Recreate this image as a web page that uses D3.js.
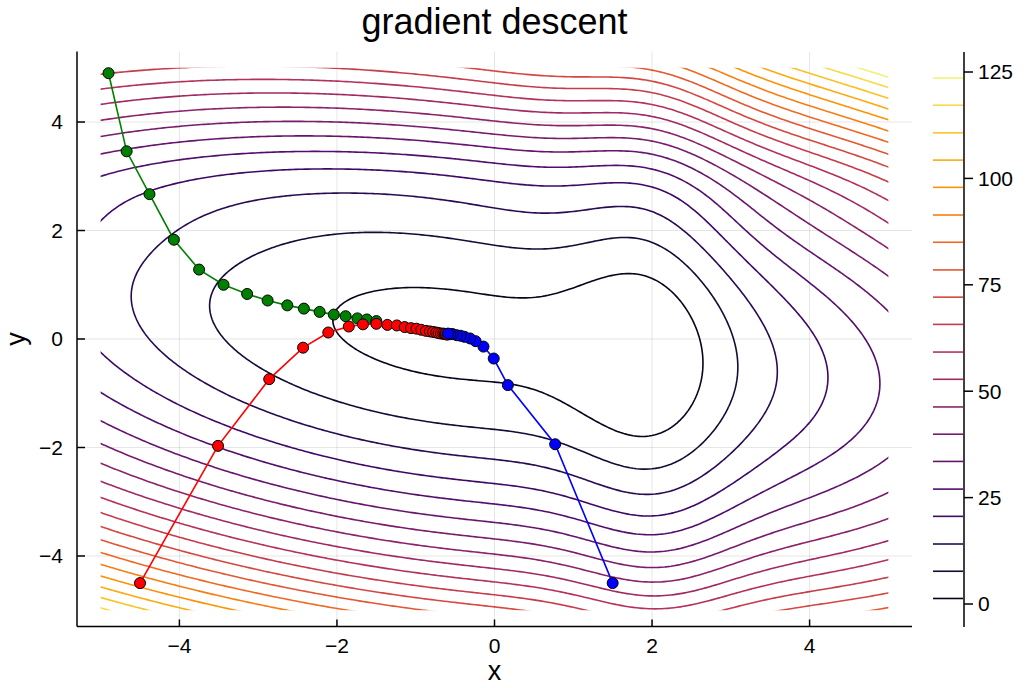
<!DOCTYPE html>
<html>
<head>
<meta charset="utf-8">
<script src="https://cdn.jsdelivr.net/npm/d3@7"></script>
<style>
  body { margin: 0; background: #fff; }
  text { font-family: "Liberation Sans", Arial, Helvetica, sans-serif; fill: #000; }
</style>
</head>
<body>
<div id="chart"></div>
<script>
// contour levels
var levels = [1.3, 7.7, 14.1, 20.6, 27.0, 33.5, 39.9, 46.3, 52.8, 59.2,
              65.7, 72.1, 78.5, 85.0, 91.4, 97.9, 104.3, 110.7, 117.2, 123.6];
var colorRange = [-5.4, 129.7];
var colorTicks = [0, 25, 50, 75, 100, 125];
var axisTicks = [-4, -2, 0, 2, 4];
var dataRange = [-5, 5];

// surface: quadratic bowl with two gaussian troughs
var coefXX = 1, coefXY = 1, coefYY = 2.98, coefX = 1.1, offset = -0.3;
var troughX = {depth: 10.5, center: 2.05, spread: 1.16};
var troughY = {depth: 4, center: 3, spread: 0.87};

// gradient descent iterates
var greenX = [-4.9, -4.67, -4.38, -4.07, -3.75, -3.44, -3.14, -2.88, -2.63, -2.42, -2.22, -2.04, -1.89, -1.74, -1.62, -1.50];
var greenY = [4.9, 3.46, 2.67, 1.83, 1.28, 1.0, 0.83, 0.71, 0.62, 0.56, 0.50, 0.45, 0.42, 0.38, 0.36, 0.33];
var redX = [-4.5, -3.51, -2.86, -2.43, -2.11, -1.85, -1.67, -1.50, -1.36, -1.24, -1.14, -1.06, -0.99, -0.93, -0.87, -0.82, -0.78, -0.74, -0.71, -0.68, -0.65, -0.63, -0.62, -0.60];
var redY = [-4.5, -1.97, -0.74, -0.16, 0.12, 0.23, 0.27, 0.28, 0.26, 0.25, 0.22, 0.20, 0.19, 0.17, 0.15, 0.14, 0.13, 0.12, 0.11, 0.10, 0.10, 0.09, 0.09, 0.08];
var blueX = [1.5, 0.77, 0.17, -0.01, -0.14, -0.24, -0.31, -0.38, -0.43, -0.48, -0.53, -0.56, -0.59];
var blueY = [-4.5, -1.94, -0.85, -0.36, -0.14, -0.04, 0.01, 0.04, 0.06, 0.07, 0.09, 0.09, 0.10];

function surface(px, py) {
    return coefXX * px * px + coefXY * px * py + coefYY * py * py + coefX * px + offset
        - troughX.depth * Math.exp(-Math.pow(px - troughX.center, 2) / troughX.spread)
        - troughY.depth * Math.exp(-Math.pow(py - troughY.center, 2) / troughY.spread);
}

var width = 1026, height = 688;

var svg = d3.select("#chart")
    .append("svg")
        .attr("width", width)
        .attr("height", height);

var x = d3.scaleLinear().domain([-5.3, 5.3]).range([77, 912]);
var y = d3.scaleLinear().domain([-5.3, 5.3]).range([626.5, 51.5]);
var c = d3.scaleLinear().domain(colorRange).range([627, 52]);

function levelColor(v) {
    return d3.interpolateInferno((v - colorRange[0]) / (colorRange[1] - colorRange[0]));
}

//////// grid ////////
var grid = svg.append("g")
    .attr("stroke", "#000")
    .attr("stroke-opacity", 0.1)
    .attr("stroke-width", 1);
grid.selectAll(".gx").data(axisTicks).enter().append("line")
    .attr("x1", function(d) { return x(d); })
    .attr("x2", function(d) { return x(d); })
    .attr("y1", y(-5.3))
    .attr("y2", y(5.3));
grid.selectAll(".gy").data(axisTicks).enter().append("line")
    .attr("x1", x(-5.3))
    .attr("x2", x(5.3))
    .attr("y1", function(d) { return y(d); })
    .attr("y2", function(d) { return y(d); });

//////// contours ////////
// sample a little past the data range so the isolines run cleanly to the clip edge
var pad = 0.2, step = 0.04;
var g0 = dataRange[0] - pad;
var n = Math.round((dataRange[1] - dataRange[0] + 2 * pad) / step) + 1;
var values = new Array(n * n);
for (var j = 0; j < n; j++) {
    for (var i = 0; i < n; i++) {
        values[j * n + i] = surface(g0 + i * step, g0 + j * step);
    }
}
var contours = d3.contours().size([n, n]).thresholds(levels)(values);

var toPlot = d3.geoTransform({
    point: function(gx, gy) {
        this.stream.point(x(g0 + (gx - 0.5) * step), y(g0 + (gy - 0.5) * step));
    }
});
var contourPath = d3.geoPath(toPlot);

svg.append("defs").append("clipPath")
    .attr("id", "domain")
  .append("rect")
    .attr("x", x(dataRange[0]))
    .attr("y", y(dataRange[1]))
    .attr("width", x(dataRange[1]) - x(dataRange[0]))
    .attr("height", y(dataRange[0]) - y(dataRange[1]));

svg.append("g")
    .attr("clip-path", "url(#domain)")
  .selectAll("path")
  .data(contours)
  .enter().append("path")
    .attr("d", contourPath)
    .attr("fill", "none")
    .attr("stroke", function(d) { return levelColor(d.value); })
    .attr("stroke-width", 1.6);

//////// descent paths ////////
var series = [
    {xs: greenX, ys: greenY, color: "#008000"},
    {xs: redX, ys: redY, color: "#ff0000"},
    {xs: blueX, ys: blueY, color: "#0000ff"}
];
var line = d3.line()
    .x(function(d) { return x(d[0]); })
    .y(function(d) { return y(d[1]); });

series.forEach(function(s) {
    var pts = d3.zip(s.xs, s.ys);
    var g = svg.append("g");
    g.append("path")
        .attr("d", line(pts))
        .attr("fill", "none")
        .attr("stroke", s.color)
        .attr("stroke-width", 1.6);
    g.selectAll("circle").data(pts).enter().append("circle")
        .attr("cx", function(d) { return x(d[0]); })
        .attr("cy", function(d) { return y(d[1]); })
        .attr("r", 5.5)
        .attr("fill", s.color)
        .attr("stroke", "#000")
        .attr("stroke-width", 1);
});

//////// axes ////////
var axes = svg.append("g").attr("stroke", "#000").attr("stroke-width", 1.5);
axes.append("line").attr("x1", x(-5.3)).attr("x2", x(5.3)).attr("y1", y(-5.3)).attr("y2", y(-5.3));
axes.append("line").attr("x1", x(-5.3)).attr("x2", x(-5.3)).attr("y1", y(-5.3)).attr("y2", y(5.3));
axes.selectAll(".tx").data(axisTicks).enter().append("line")
    .attr("x1", function(d) { return x(d); })
    .attr("x2", function(d) { return x(d); })
    .attr("y1", y(-5.3))
    .attr("y2", y(-5.3) - 7);
axes.selectAll(".ty").data(axisTicks).enter().append("line")
    .attr("x1", x(-5.3))
    .attr("x2", x(-5.3) + 8)
    .attr("y1", function(d) { return y(d); })
    .attr("y2", function(d) { return y(d); });

function fmt(d) { return d < 0 ? "\u2212" + Math.abs(d) : String(d); }

svg.selectAll(".xl").data(axisTicks).enter().append("text")
    .attr("x", function(d) { return x(d); })
    .attr("y", 653)
    .attr("text-anchor", "middle")
    .style("font-size", "21px")
    .text(fmt);
svg.selectAll(".yl").data(axisTicks).enter().append("text")
    .attr("x", 63)
    .attr("y", function(d) { return y(d); })
    .attr("dy", "0.35em")
    .attr("text-anchor", "end")
    .style("font-size", "21px")
    .text(fmt);

svg.append("text")
    .attr("x", x(0))
    .attr("y", 680)
    .attr("text-anchor", "middle")
    .style("font-size", "27px")
    .text("x");
svg.append("text")
    .attr("transform", "translate(25," + y(0) + ") rotate(-90)")
    .attr("text-anchor", "middle")
    .style("font-size", "27px")
    .text("y");

svg.append("text")
    .attr("x", x(0))
    .attr("y", 34)
    .attr("text-anchor", "middle")
    .style("font-size", "36px")
    .text("gradient descent");

//////// colour bar ////////
var bar = svg.append("g");
bar.selectAll(".lv").data(levels).enter().append("line")
    .attr("x1", 933)
    .attr("x2", 963)
    .attr("y1", function(d) { return c(d); })
    .attr("y2", function(d) { return c(d); })
    .attr("stroke", levelColor)
    .attr("stroke-width", 1.6);
bar.append("line")
    .attr("x1", 964).attr("x2", 964)
    .attr("y1", c(colorRange[0])).attr("y2", c(colorRange[1]))
    .attr("stroke", "#000").attr("stroke-width", 1.5);
bar.selectAll(".ct").data(colorTicks).enter().append("line")
    .attr("x1", 964).attr("x2", 973)
    .attr("y1", function(d) { return c(d); })
    .attr("y2", function(d) { return c(d); })
    .attr("stroke", "#000").attr("stroke-width", 1.5);
bar.selectAll(".cl").data(colorTicks).enter().append("text")
    .attr("x", 978)
    .attr("y", function(d) { return c(d); })
    .attr("dy", "0.35em")
    .style("font-size", "21px")
    .text(function(d) { return d; });
</script>
</body>
</html>
